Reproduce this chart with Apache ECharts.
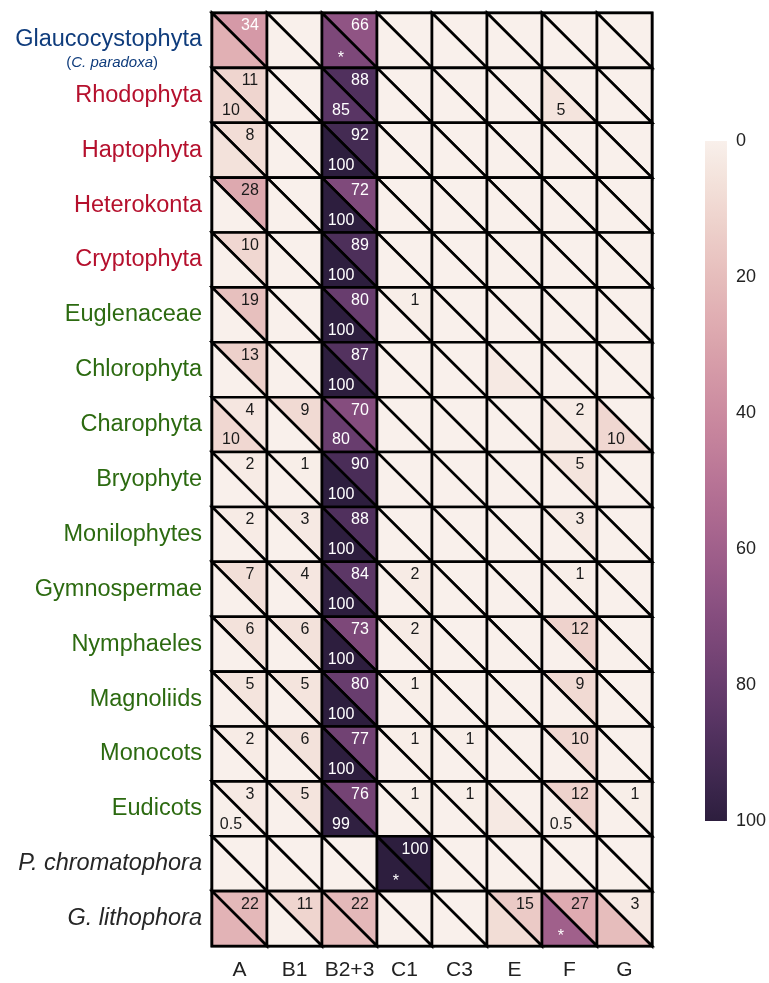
<!DOCTYPE html>
<html><head><meta charset="utf-8">
<script src="https://cdn.jsdelivr.net/npm/echarts@6/dist/echarts.min.js"></script>
<style>html,body{margin:0;padding:0;background:#fff}#c{width:769px;height:983px}</style>
</head><body><div id="c"></div>
<script>
const columns = ['A','B1','B2+3','C1','C3','E','F','G'];
const rows = ['Glaucocystophyta','Rhodophyta','Haptophyta','Heterokonta','Cryptophyta','Euglenaceae','Chlorophyta','Charophyta','Bryophyte','Monilophytes','Gymnospermae','Nymphaeles','Magnoliids','Monocots','Eudicots','P. chromatophora','G. lithophora'];
const rowGroups = ['blue','red','red','red','red','green','green','green','green','green','green','green','green','green','green','dark','dark'];

// upper-right triangle values (labelled when > 0)
const upperValues = [
  [34,0,66,0,0,0,0,0],
  [11,0,88,0,0,0,0,0],
  [8,0,92,0,0,0,0,0],
  [28,0,72,0,0,0,0,0],
  [10,0,89,0,0,0,0,0],
  [19,0,80,1,0,0,0,0],
  [13,0,87,0,0,0,0,0],
  [4,9,70,0,0,0,2,0],
  [2,1,90,0,0,0,5,0],
  [2,3,88,0,0,0,3,0],
  [7,4,84,2,0,0,1,0],
  [6,6,73,2,0,0,12,0],
  [5,5,80,1,0,0,9,0],
  [2,6,77,1,1,0,10,0],
  [3,5,76,1,1,0,12,1],
  [0,0,0,100,0,0,0,0],
  [22,11,22,0,0,15,27,3]
];
// lower-left triangle values
const lowerValues = [
  [25,0,73,0,0,0,0,0],
  [10,0,85,0,0,0,5,0],
  [6,0,100,0,0,0,0,0],
  [0,0,100,0,0,0,0,0],
  [0,0,100,0,0,0,0,0],
  [0,0,100,0,0,0,0,0],
  [0,0,100,0,0,3,0,0],
  [10,0,80,0,0,0,2,10],
  [0,0,100,0,0,0,0,0],
  [0,0,100,0,0,0,0,0],
  [0,0,100,0,0,0,0,0],
  [0,0,100,0,0,0,0,0],
  [0,0,100,0,0,0,0,0],
  [0,0,100,0,0,0,0,0],
  [0.5,0,99,0,0,3,0.5,0],
  [0,0,0,100,0,0,0,0],
  [24,0,20,0,0,8,60,20]
];
const lowerLabels = [
  ['','','*','','','','',''],
  ['10','','85','','','','5',''],
  ['','','100','','','','',''],
  ['','','100','','','','',''],
  ['','','100','','','','',''],
  ['','','100','','','','',''],
  ['','','100','','','','',''],
  ['10','','80','','','','','10'],
  ['','','100','','','','',''],
  ['','','100','','','','',''],
  ['','','100','','','','',''],
  ['','','100','','','','',''],
  ['','','100','','','','',''],
  ['','','100','','','','',''],
  ['0.5','','99','','','','0.5',''],
  ['','','','*','','','',''],
  ['','','','','','','*','']
];
const colorbarTicks = [0,20,40,60,80,100];

// seaborn-style cubehelix colormap (light -> dark)
function cubehelix(x){
  const start=0, rot=0.4, gamma=1, hue=0.8;
  const xg=Math.pow(x,gamma);
  const a=hue*xg*(1-xg)/2;
  const phi=2*Math.PI*(start/3+rot*x);
  const c=Math.cos(phi), s=Math.sin(phi);
  const r=xg+a*(-0.14861*c+1.78277*s);
  const g=xg+a*(-0.29227*c-0.90649*s);
  const b=xg+a*(1.97294*c);
  const h=v=>{v=Math.max(0,Math.min(1,v));return Math.round(v*255).toString(16).padStart(2,'0');};
  return '#'+h(r)+h(g)+h(b);
}
function palette(n){
  const out=[];
  for(let i=0;i<n;i++){const t=i/(n-1);out.push(cubehelix(0.95-0.8*t));}
  return out;
}
const pal = palette(41);

const cells=[];
const cellLabels=[];
rows.forEach((r,ri)=>columns.forEach((c,ci)=>{
  const uv=upperValues[ri][ci];
  cells.push([ci,ri,uv,0]); cellLabels.push(uv>0?String(uv):'');
  const lv=lowerValues[ri][ci];
  cells.push([ci,ri,lv,1]); cellLabels.push(lowerLabels[ri][ci]);
}));

const FS=23.5;
const groupColors={blue:'#0f3c7c',red:'#b5102d',green:'#2c6a10',dark:'#262626'};
const rich={
  blue:{fontSize:FS,color:groupColors.blue,fontFamily:'Liberation Sans'},
  red:{fontSize:FS,color:groupColors.red,fontFamily:'Liberation Sans'},
  green:{fontSize:FS,color:groupColors.green,fontFamily:'Liberation Sans'},
  dark:{fontSize:FS,color:groupColors.dark,fontFamily:'Liberation Sans',fontStyle:'italic'},
  gtop:{fontSize:FS,color:groupColors.blue,fontFamily:'Liberation Sans',lineHeight:24},
  sp:{fontSize:4,lineHeight:21},
  sub:{fontSize:15,color:groupColors.blue,fontFamily:'Liberation Sans',lineHeight:22},
  subi:{fontSize:15,color:groupColors.blue,fontFamily:'Liberation Sans',fontStyle:'italic',lineHeight:22},
  subr:{fontSize:15,color:groupColors.blue,fontFamily:'Liberation Sans',lineHeight:22,padding:[0,44,0,0]}
};

const chart=echarts.init(document.getElementById('c'),null,{renderer:'canvas'});
chart.setOption({
  backgroundColor:'#fff',
  animation:false,
  grid:[
    {left:212,top:13,width:440,height:933,show:true,borderColor:'#000',borderWidth:3,backgroundColor:'transparent'},
    {left:705,top:141,width:27,height:680}
  ],
  xAxis:[
    {type:'category',gridIndex:0,data:columns,axisLine:{show:false},axisTick:{show:false},splitLine:{show:false},
     axisLabel:{interval:0,fontSize:21,color:'#222',margin:14,fontFamily:'Liberation Sans'}},
    {type:'value',gridIndex:1,min:0,max:1,show:false}
  ],
  yAxis:[
    {type:'category',gridIndex:0,data:rows,inverse:true,axisLine:{show:false},axisTick:{show:false},splitLine:{show:false},
     axisLabel:{interval:0,margin:10,rich:rich,formatter:(v,i)=>{
       if(i===0) return '{sp| }\n{gtop|'+v+'}\n{sub|(}{subi|C. paradoxa}{subr|)}';
       return '{'+rowGroups[i]+'|'+v+'}';
     }}},
    {type:'value',gridIndex:1,min:0,max:100,interval:20,inverse:true,position:'right',
     axisLine:{show:false},axisTick:{show:false},splitLine:{show:false},
     axisLabel:{fontSize:18,color:'#222',margin:9,fontFamily:'Liberation Sans',
       formatter:v=>colorbarTicks.indexOf(v)>=0?String(v):''}}
  ],
  visualMap:{show:false,type:'continuous',min:0,max:100,dimension:2,seriesIndex:0,inRange:{color:pal}},
  series:[
    {type:'custom',xAxisIndex:0,yAxisIndex:0,data:cells,encode:{x:0,y:1},
     renderItem:(params,api)=>{
       const ci=api.value(0),ri=api.value(1),v=api.value(2),part=api.value(3);
       const c=api.coord([ci,ri]);const s=api.size([1,1]);
       const w=s[0],h=s[1];
       const x0=c[0]-w/2,x1=c[0]+w/2,y0=c[1]-h/2,y1=c[1]+h/2;
       const pts=part===0?[[x0,y0],[x1,y0],[x1,y1]]:[[x0,y0],[x0,y1],[x1,y1]];
       const children=[{type:'polygon',shape:{points:pts},style:{fill:api.visual('color'),stroke:'#000',lineWidth:2.6,lineJoin:'miter'}}];
       const label=cellLabels[params.dataIndex];
       if(label){
         const isStar=label==='*';
         children.push({type:'text',z2:10,
           x:part===0?c[0]+0.19*w:c[0]-0.155*w,
           y:part===0?c[1]-0.263*h:c[1]+0.28*h+(isStar?3:0),
           style:{text:label,fill:v>=30?'#fff':'#1a1a1a',font:'16px "Liberation Sans", Arial, sans-serif',align:'center',verticalAlign:'middle'}});
       }
       return {type:'group',children:children};
     }},
    {type:'custom',xAxisIndex:1,yAxisIndex:1,data:[[0,0]],silent:true,
     renderItem:(params,api)=>{
       const p0=api.coord([0,0]),p1=api.coord([1,100]);
       const stops=pal.map((col,i)=>({offset:i/(pal.length-1),color:col}));
       return {type:'rect',shape:{x:p0[0],y:p0[1],width:p1[0]-p0[0],height:p1[1]-p0[1]},
         style:{fill:new echarts.graphic.LinearGradient(0,0,0,1,stops)}};
     }}
  ]
});
</script></body></html>
